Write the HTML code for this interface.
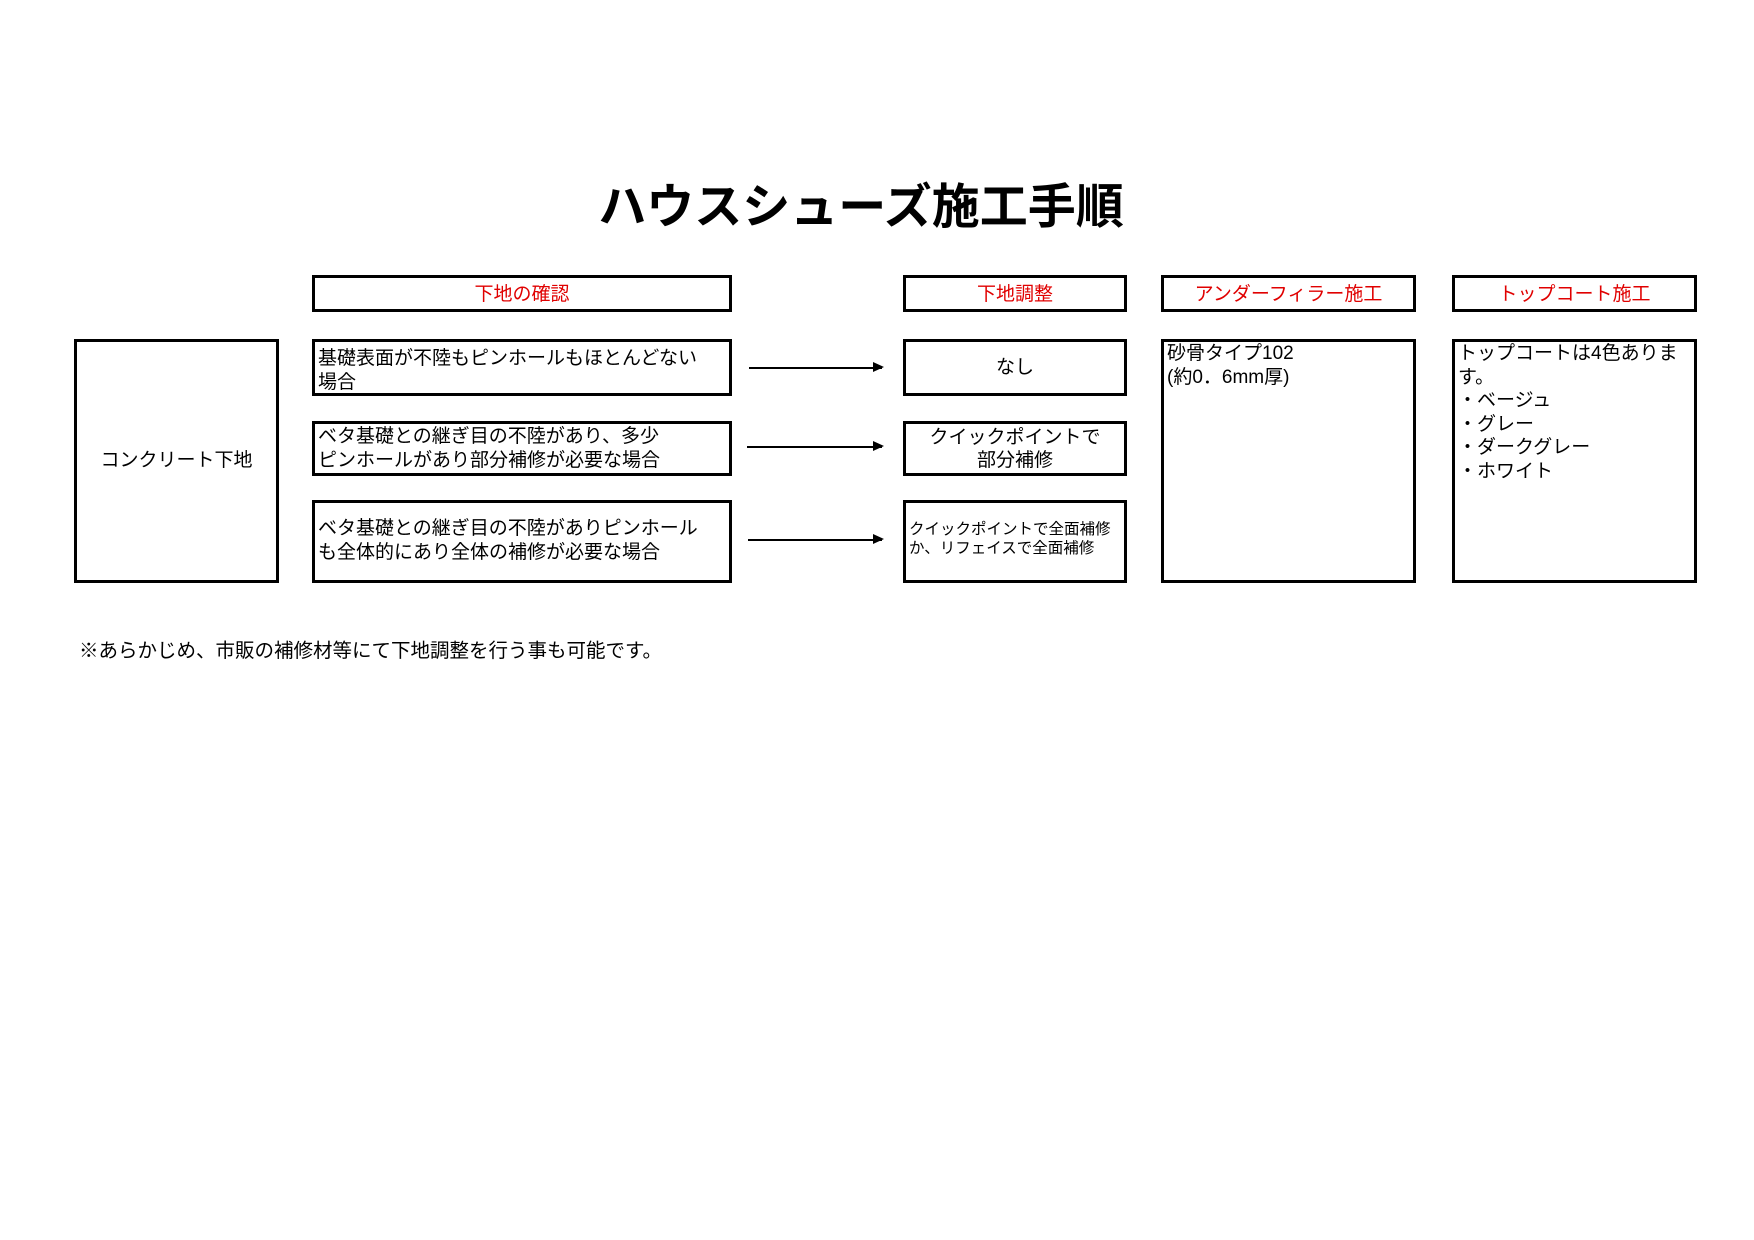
<!DOCTYPE html>
<html><head><meta charset="utf-8"><style>
body{margin:0;width:1754px;height:1240px;background:#fff;position:relative;overflow:hidden;font-family:"Liberation Sans","Noto Sans CJK JP",sans-serif;color:#000}
.b{position:absolute;border:3.5px solid #000;box-sizing:border-box;font-size:19px;line-height:24px}
.h{color:#e00000;text-align:center;line-height:34px;font-size:19px}
.c{display:flex;align-items:center;justify-content:center;text-align:center}
.t{position:absolute;white-space:nowrap}
.ar{position:absolute;height:1.5px;background:#000}
.ar:after{content:"";position:absolute;right:-2px;top:-5px;border-left:11px solid #000;border-top:5.5px solid transparent;border-bottom:5.5px solid transparent}
</style></head><body>
<div class="t" style="left:0;width:1722px;text-align:center;top:178px;font-size:48px;font-weight:bold;line-height:60px">ハウスシューズ施工手順</div>

<div class="b h" style="left:312px;top:275px;width:420px;height:37px">下地の確認</div>
<div class="b h" style="left:903px;top:275px;width:224px;height:37px">下地調整</div>
<div class="b h" style="left:1161px;top:275px;width:255px;height:37px">アンダーフィラー施工</div>
<div class="b h" style="left:1452px;top:275px;width:245px;height:37px">トップコート施工</div>

<div class="b c" style="left:74px;top:339px;width:205px;height:244px">コンクリート下地</div>

<div class="b" style="left:312px;top:339px;width:420px;height:57px;padding:5px 0 0 3px">基礎表面が不陸もピンホールもほとんどない<br>場合</div>
<div class="b" style="left:312px;top:421px;width:420px;height:55px;padding:1px 0 0 3px">ベタ基礎との継ぎ目の不陸があり、多少<br>ピンホールがあり部分補修が必要な場合</div>
<div class="b" style="left:312px;top:500px;width:420px;height:83px;padding:14px 0 0 3px">ベタ基礎との継ぎ目の不陸がありピンホール<br>も全体的にあり全体の補修が必要な場合</div>

<div class="ar" style="left:749px;top:367px;width:133px"></div>
<div class="ar" style="left:747px;top:446px;width:135px"></div>
<div class="ar" style="left:748px;top:539px;width:134px"></div>

<div class="b c" style="left:903px;top:339px;width:224px;height:57px">なし</div>
<div class="b c" style="left:903px;top:421px;width:224px;height:55px;line-height:23px">クイックポイントで<br>部分補修</div>
<div class="b" style="left:903px;top:500px;width:224px;height:83px;font-size:15.5px;line-height:19px;padding:17px 0 0 3px">クイックポイントで全面補修<br>か、リフェイスで全面補修</div>

<div class="b" style="left:1161px;top:339px;width:255px;height:244px;padding:0 0 0 3px">砂骨タイプ102<br>(約0．6mm厚)</div>
<div class="b" style="left:1452px;top:339px;width:245px;height:244px;padding:0 0 0 3px;line-height:23.5px">トップコートは4色ありま<br>す。<br>・ベージュ<br>・グレー<br>・ダークグレー<br>・ホワイト</div>

<div class="t" style="left:79px;top:638px;font-size:19.5px;line-height:26px">※あらかじめ、市販の補修材等にて下地調整を行う事も可能です。</div>
</body></html>
